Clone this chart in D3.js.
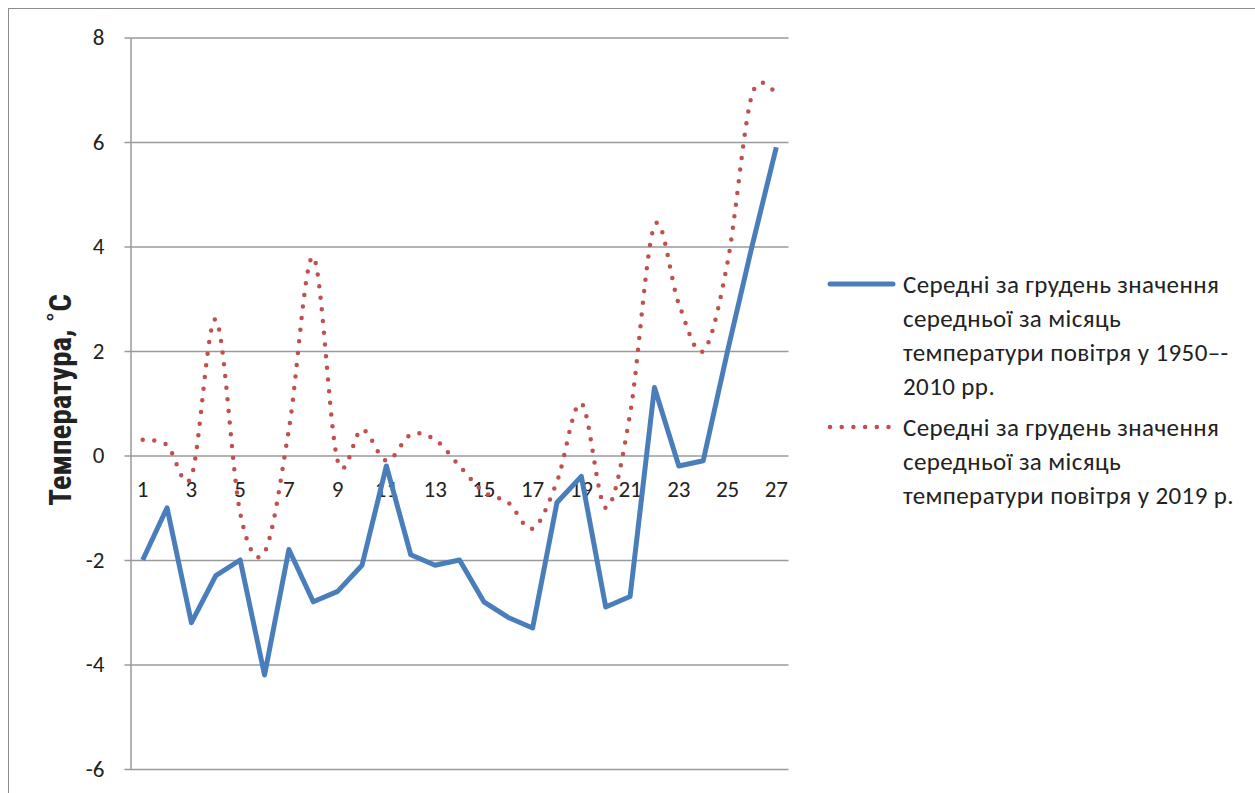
<!DOCTYPE html>
<html>
<head>
<meta charset="utf-8">
<script src="https://cdn.jsdelivr.net/npm/d3@7"></script>
<style>
  html, body { margin: 0; padding: 0; background: #fff; }
  svg { display: block; }
</style>
</head>
<body>
<svg id="chart" width="1255" height="793"></svg>
<script>
// Days of December
const days = d3.range(1, 28);
// Long-term mean daily temperature, 1950–2010
const mean1950_2010 = [-2.0, -1.0, -3.2, -2.3, -2.0, -4.2, -1.8, -2.8, -2.6, -2.1, -0.2, -1.9, -2.1, -2.0,
  -2.8, -3.1, -3.3, -0.9, -0.4, -2.9, -2.7, 1.3, -0.2, -0.1, 2.0, 4.0, 5.9];
// Daily temperature, 2019
const temp2019 = [0.3, 0.2, -0.4, 2.6, -1.1, -1.85, 0.5, 3.8, -0.1, 0.5, -0.1, 0.4, 0.3, -0.2,
  -0.7, -0.9, -1.4, -0.5, 1.0, -1.0, 0.8, 4.4, 2.9, 2.0, 3.7, 6.9, 6.9];
const yTicks = [-6, -4, -2, 0, 2, 4, 6, 8];
const xTickLabels = days.filter(d => d % 2 === 1);
const seriesNames = [
  ["Середні за грудень значення", "середньої за місяць", "температури повітря у 1950–-", "2010 рр."],
  ["Середні за грудень значення", "середньої за місяць", "температури повітря у  2019 р."]
];

const svg = d3.select("#chart");
const font = "Carlito, Lato, 'Open Sans', sans-serif";

// outer chart border
svg.append("rect").attr("x", 8.5).attr("y", 8.5).attr("width", 1250).attr("height", 800)
  .attr("fill", "none").attr("stroke", "#8c8c8c").attr("stroke-width", 1);

const plot = { left: 130.5, right: 788.5, top: 37.5, bottom: 769 };

const x = d3.scaleBand().domain(days).range([plot.left, plot.right]);
const y = d3.scaleLinear().domain([-6, 8]).range([plot.bottom, plot.top]);
const cx = d => x(d) + x.bandwidth() / 2;

// horizontal gridlines with left tick stubs
const yAxis = d3.axisLeft(y).tickValues(yTicks).tickSize(-(plot.right - plot.left)).tickSizeOuter(0)
  .tickFormat(d => String(d)).tickPadding(26);
const gy = svg.append("g").attr("transform", `translate(${plot.left},0)`).call(yAxis);
gy.select(".domain").attr("stroke", "#9a9a9a").attr("stroke-width", 1.5);
gy.selectAll(".tick line").attr("stroke", "#9a9a9a").attr("stroke-width", 1.5)
  .attr("x1", -6);
gy.selectAll(".tick text").attr("font-family", font).attr("font-size", 23).attr("fill", "#222");

// category labels along the zero line
const xAxis = d3.axisBottom(x).tickValues(xTickLabels).tickSize(0).tickPadding(25);
const gx = svg.append("g").attr("transform", `translate(0,${y(0)})`).call(xAxis);
gx.select(".domain").remove();
gx.selectAll(".tick text").attr("font-family", font).attr("font-size", 23).attr("fill", "#222");

// y-axis title
svg.append("text")
  .attr("transform", `translate(71,400) rotate(-90)`)
  .attr("text-anchor", "middle")
  .attr("font-family", "'Liberation Sans Narrow', 'Arial Narrow', 'Roboto Condensed', Roboto, sans-serif")
  .attr("font-weight", "bold").attr("font-size", 31).attr("fill", "#222")
  .text("Температура, ˚C");

// 1950–2010 mean (solid)
const lineStraight = d3.line().x((d, i) => cx(days[i])).y(d => y(d));
svg.append("path").datum(mean1950_2010)
  .attr("d", lineStraight).attr("fill", "none")
  .attr("stroke", "#4a7ebb").attr("stroke-width", 5).attr("stroke-linejoin", "round");

// 2019 (smoothed, dotted)
const lineSmooth = d3.line().x((d, i) => cx(days[i])).y(d => y(d)).curve(d3.curveCatmullRom.alpha(0));
svg.append("path").datum(temp2019)
  .attr("d", lineSmooth).attr("fill", "none")
  .attr("stroke", "#c0504d").attr("stroke-width", 4.5)
  .attr("stroke-linecap", "round").attr("stroke-dasharray", "0 11.7");

// legend
const legend = svg.append("g");
const entries = [
  { y: 284, color: "#4a7ebb", dotted: false, lines: seriesNames[0] },
  { y: 427, color: "#c0504d", dotted: true, lines: seriesNames[1] }
];
entries.forEach(e => {
  const ln = legend.append("line").attr("x1", 830).attr("x2", 893).attr("y1", e.y).attr("y2", e.y)
    .attr("stroke", e.color);
  if (e.dotted) ln.attr("stroke-width", 4.5).attr("stroke-linecap", "round").attr("stroke-dasharray", "0 11.7");
  else ln.attr("stroke-width", 5).attr("stroke-linecap", "round");
  const t = legend.append("text").attr("font-family", font).attr("font-size", 25)
    .attr("letter-spacing", 0.4).attr("fill", "#222");
  e.lines.forEach((s, i) => {
    t.append("tspan").attr("x", 903).attr("y", e.y + 9 + i * 34).text(s);
  });
});
</script>
</body>
</html>
